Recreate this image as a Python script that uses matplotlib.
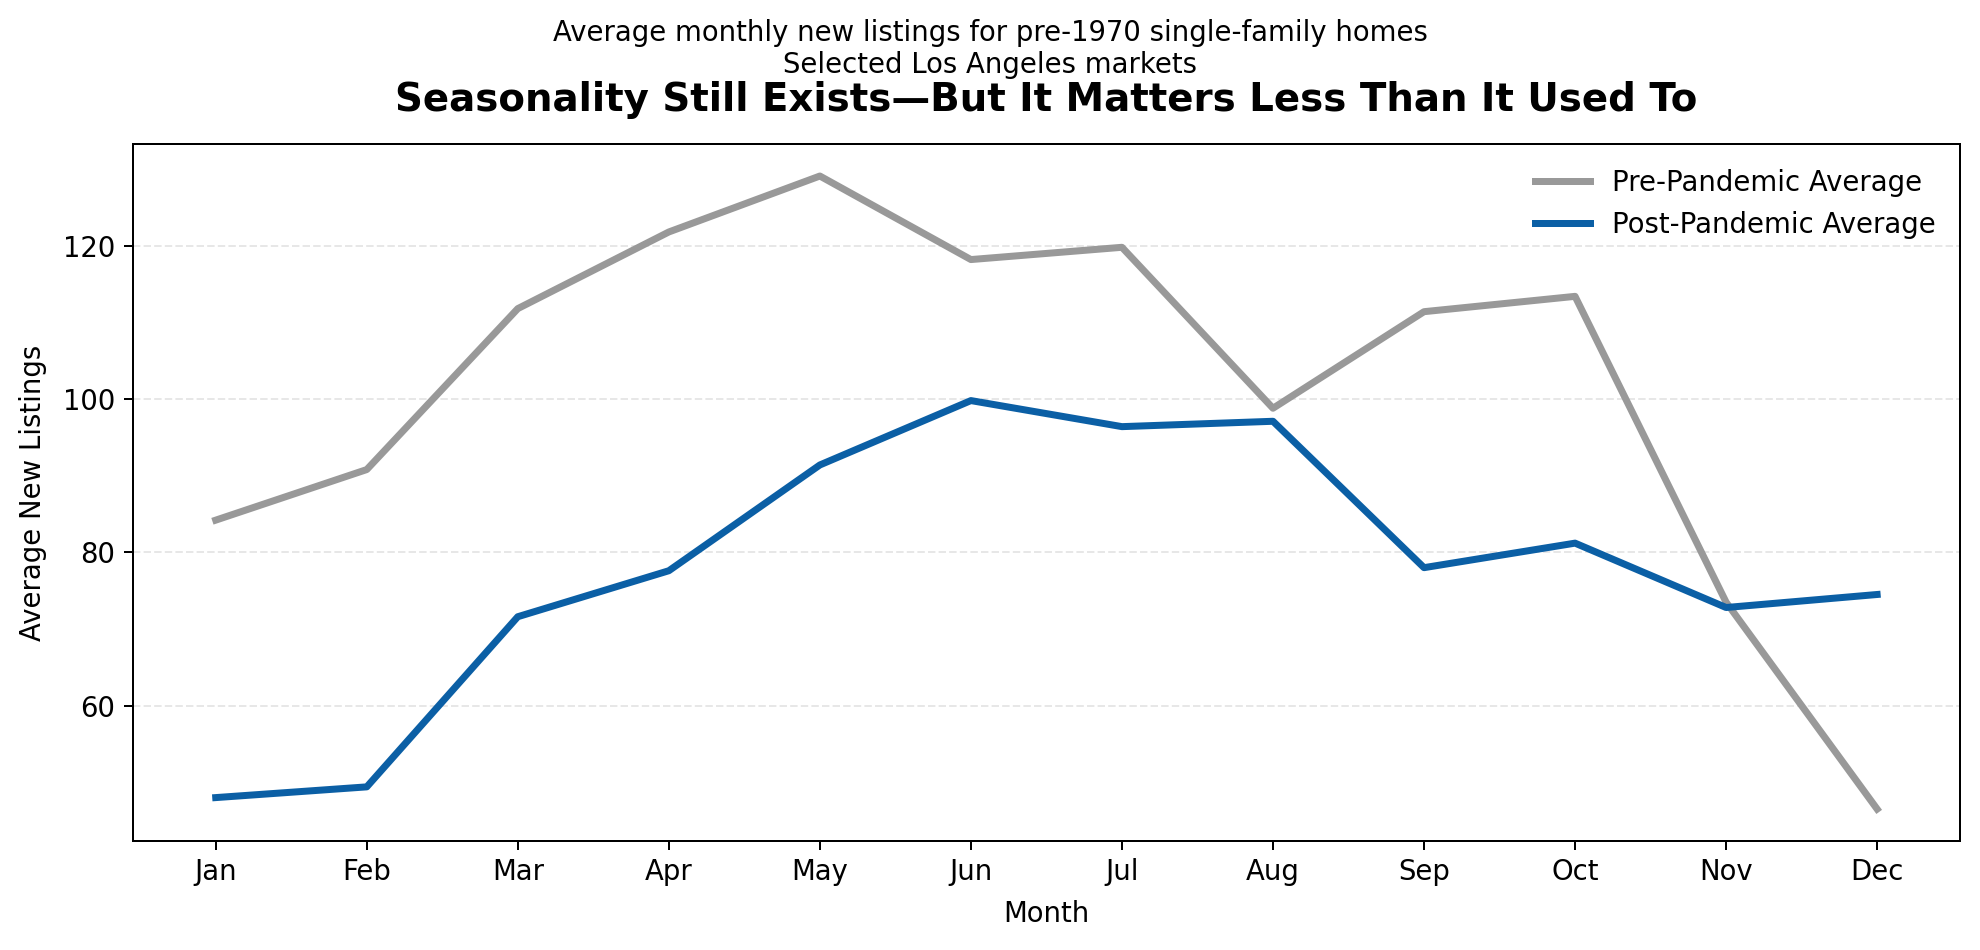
import matplotlib.pyplot as plt

months = ['Jan', 'Feb', 'Mar', 'Apr', 'May', 'Jun', 'Jul', 'Aug', 'Sep', 'Oct', 'Nov', 'Dec']
pre_pandemic = [84.2, 90.8, 111.8, 121.8, 129.1, 118.2, 119.8, 98.8, 111.4, 113.4, 73.5, 46.5]
post_pandemic = [48.0, 49.4, 71.6, 77.6, 91.4, 99.8, 96.4, 97.1, 78.0, 81.2, 72.8, 74.5]

fig, ax = plt.subplots(figsize=(11, 5.278), dpi=180)
fig.subplots_adjust(left=0.067, right=0.990, top=0.848, bottom=0.115)

x = range(len(months))
ax.plot(x, pre_pandemic, color='#999999', linewidth=2.8, label='Pre-Pandemic Average')
ax.plot(x, post_pandemic, color='#0b5fa5', linewidth=2.8, label='Post-Pandemic Average')

ax.set_xticks(list(x))
ax.set_xticklabels(months)
ax.set_xlabel('Month', fontsize=11, labelpad=5.5)
ax.set_ylabel('Average New Listings', fontsize=11, labelpad=6.5)
ax.tick_params(labelsize=11)
ax.grid(axis='y', linestyle='--', color='#dddddd', alpha=0.7)

ax.set_title('Seasonality Still Exists\u2014But It Matters Less Than It Used To',
             fontsize=15.5, fontweight='bold', pad=13.5)
fig.suptitle('Average monthly new listings for pre-1970 single-family homes\nSelected Los Angeles markets',
             fontsize=11, y=0.98)
ax.legend(frameon=False, loc='upper right', fontsize=11)

fig.savefig('out.png', dpi=180)
